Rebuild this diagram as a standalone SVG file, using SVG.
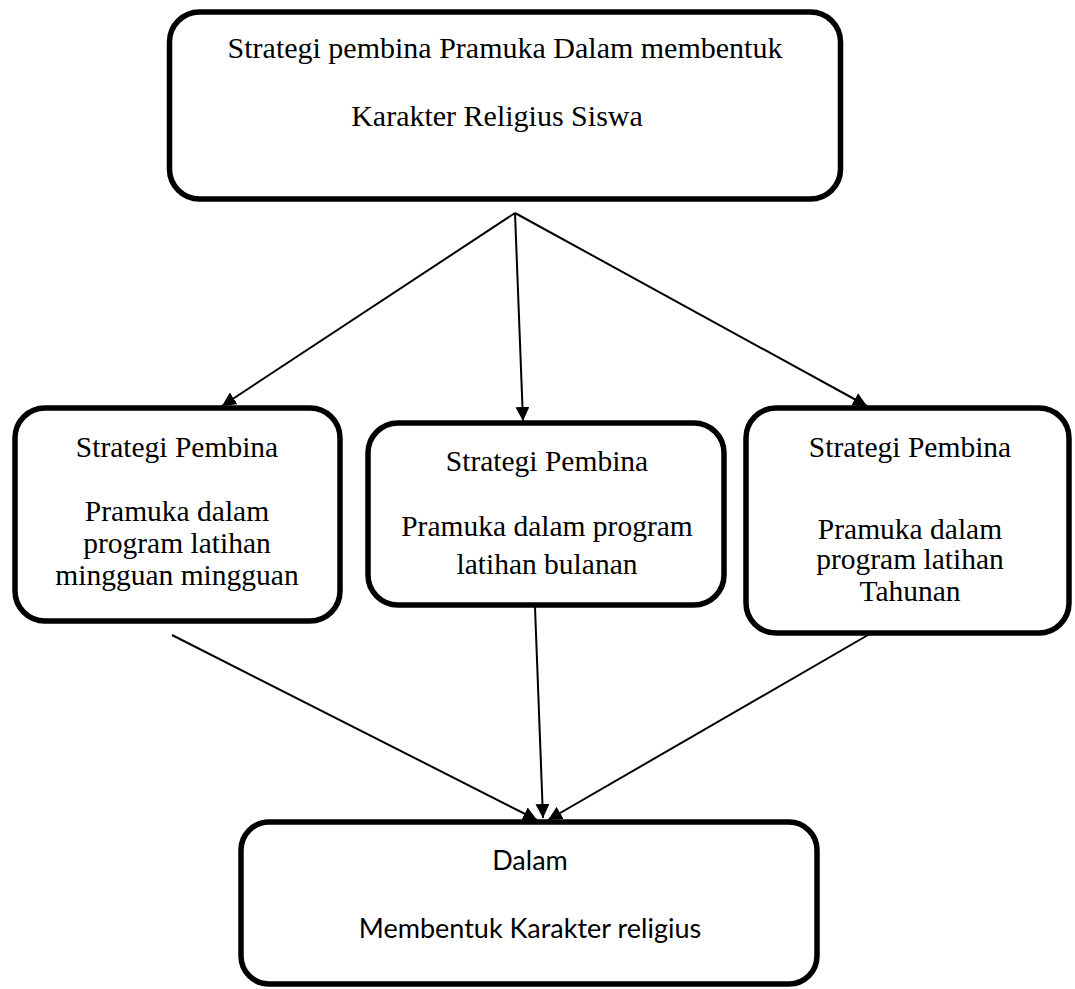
<svg xmlns="http://www.w3.org/2000/svg" width="1075" height="989" viewBox="0 0 1075 989">
<style>
.box{fill:#fff;stroke:#000;stroke-width:5.5}
.t{font-family:"Liberation Serif","Times New Roman",serif;font-size:29.5px;fill:#000;text-anchor:middle}
.tt{font-size:30px}
.s{font-family:Lato,"Open Sans",sans-serif;font-size:27px;fill:#000;text-anchor:middle}
.c{stroke:#000;stroke-width:2;fill:none}
</style>
<defs>
<marker id="ah" viewBox="0 0 14 14" refX="14" refY="7" markerWidth="14" markerHeight="14" markerUnits="userSpaceOnUse" orient="auto">
<path d="M0,0 L14,7 L0,14 z" fill="#000"/>
</marker>
</defs>
<g id="connectors">
<line class="c" x1="515" y1="213" x2="222" y2="406" marker-end="url(#ah)"/>
<line class="c" x1="515" y1="213" x2="523" y2="421" marker-end="url(#ah)"/>
<line class="c" x1="515" y1="213" x2="867" y2="406" marker-end="url(#ah)"/>
<line class="c" x1="172" y1="635" x2="537" y2="820" marker-end="url(#ah)"/>
<line class="c" x1="535" y1="607" x2="543" y2="818" marker-end="url(#ah)"/>
<line class="c" x1="868" y1="635" x2="548" y2="820" marker-end="url(#ah)"/>
</g>
<g id="node-top">
<rect class="box" x="169.5" y="12" width="671" height="187" rx="30"/>
<text class="t tt" x="505" y="58">Strategi pembina Pramuka Dalam membentuk</text>
<text class="t tt" x="497" y="126">Karakter Religius Siswa</text>
</g>
<g id="node-mingguan">
<rect class="box" x="15" y="408" width="325" height="213" rx="30"/>
<text class="t" x="177" y="457">Strategi Pembina</text>
<text class="t" x="177" y="521">Pramuka dalam</text>
<text class="t" x="177" y="553">program latihan</text>
<text class="t" x="177" y="585">mingguan mingguan</text>
</g>
<g id="node-bulanan">
<rect class="box" x="368" y="423" width="356" height="182" rx="30"/>
<text class="t" x="547" y="471">Strategi Pembina</text>
<text class="t" x="547" y="536">Pramuka dalam program</text>
<text class="t" x="547" y="574">latihan bulanan</text>
</g>
<g id="node-tahunan">
<rect class="box" x="746" y="408" width="323" height="225" rx="30"/>
<text class="t" x="910" y="457">Strategi Pembina</text>
<text class="t" x="910" y="539">Pramuka dalam</text>
<text class="t" x="910" y="569">program latihan</text>
<text class="t" x="910" y="601">Tahunan</text>
</g>
<g id="node-bottom">
<rect class="box" x="241" y="822" width="576" height="162" rx="28"/>
<text class="s" x="530" y="870">Dalam</text>
<text class="s" x="530" y="938">Membentuk Karakter religius</text>
</g>
</svg>
